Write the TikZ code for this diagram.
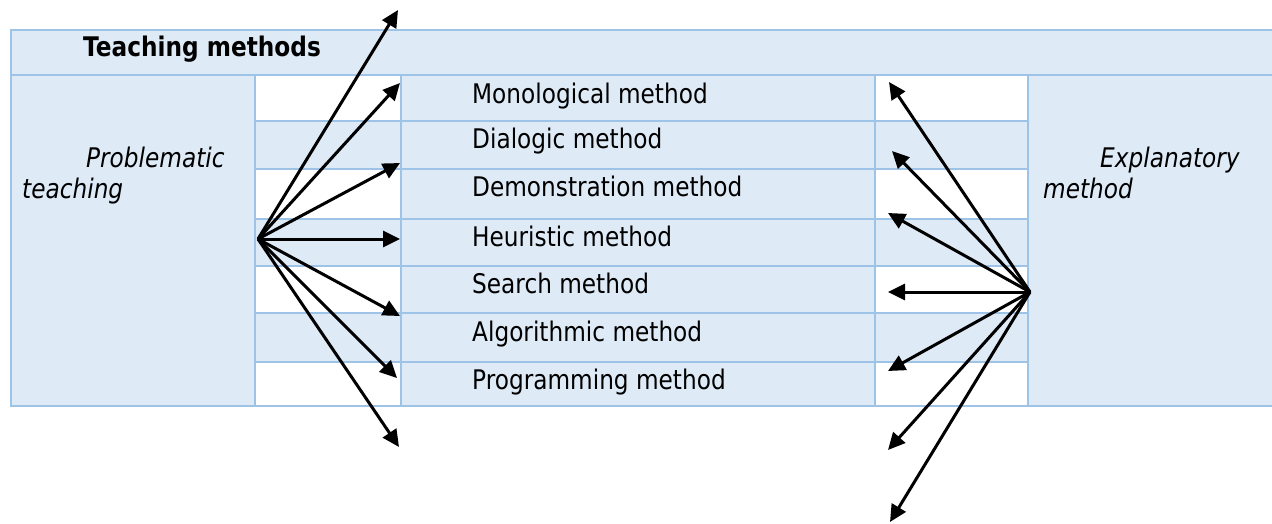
\documentclass[tikz,border=0pt]{standalone}
\usepackage{fontspec}
\setmainfont[FakeStretch=0.86]{DejaVu Sans}
\usetikzlibrary{arrows.meta}
\definecolor{cellblue}{HTML}{DEEAF6}
\definecolor{gridblue}{HTML}{9DC3E6}

\begin{document}
\begin{tikzpicture}[x=1pt, y=-1pt,
        grid/.style={draw=gridblue, line width=2.8},
        item/.style={anchor=base west, inner sep=0, font=\fontsize{27}{31}\selectfont},
        side/.style={anchor=base west, inner sep=0, align=left, font=\fontsize{27}{31}\selectfont\itshape},
        arr/.style={line width=3, -{Triangle[length=17,width=16]}}]
    \useasboundingbox (0,0) rectangle (1272,523);

    % table cells
    \fill[cellblue] (11,30) rectangle (1272,406);
    \foreach \t/\b in {75/121,169/219,266/313,362/406} {
        \fill[white] (255,\t) rectangle (401,\b);
        \fill[white] (875,\t) rectangle (1028,\b);
    }

    % table rules
    \draw[grid] (1272,30) -- (11,30) -- (11,406) -- (1272,406);
    \draw[grid] (11,75) -- (1272,75);
    \foreach \y in {121,169,219,266,313,362} {\draw[grid] (255,\y) -- (1028,\y);}
    \foreach \x in {255,401,875,1028} {\draw[grid] (\x,75) -- (\x,406);}

    % texts
    \node[item, font=\fontsize{27}{31}\selectfont\bfseries] (title) at (83,56) {Teaching methods};
    \foreach \i/\txt/\yb in {1/Monological method/103, 2/Dialogic method/148,
            3/Demonstration method/196, 4/Heuristic method/246, 5/Search method/293,
            6/Algorithmic method/341, 7/Programming method/389} {
        \node[item] (m\i) at (472,\yb) {\txt};
    }
    \node[side] (prob) at (22,198) {\hspace*{64pt}Problematic\\teaching};
    \node[side] (expl) at (1043,198) {\hspace*{57pt}Explanatory\\method};

    % arrows
    \coordinate (lsrc) at (258,239);
    \coordinate (rsrc) at (1030,292);
    \foreach \i/\x/\y in {1/398/10, 2/400/83, 3/400/163, 4/400/239, 5/400/316, 6/397/378, 7/399/447} {
        \coordinate (lt\i) at (\x,\y);
        \draw[arr] (lsrc) -- (lt\i);
    }
    \foreach \i/\x/\y in {1/889/82, 2/892/151, 3/888/213, 4/888/292, 5/888/371, 6/888/450, 7/890/522} {
        \coordinate (rt\i) at (\x,\y);
        \draw[arr] (rsrc) -- (rt\i);
    }
\end{tikzpicture}
\end{document}
